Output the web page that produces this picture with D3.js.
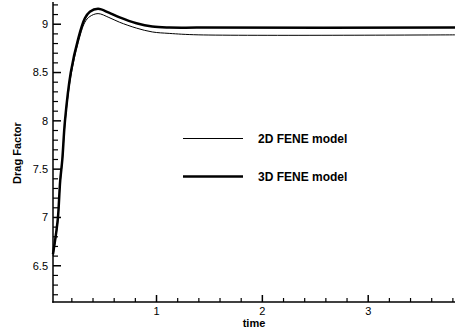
<!DOCTYPE html>
<html>
<head>
<meta charset="utf-8">
<script src="https://cdn.jsdelivr.net/npm/d3@7"></script>
<style>
  body { margin: 0; background: #fff; }
  svg text { font-family: "Liberation Sans", Arial, sans-serif; fill: #000; }
</style>
</head>
<body>
<div id="chart"></div>
<script>
// values
const time = [0.022, 0.053, 0.069, 0.09, 0.11, 0.135, 0.19, 0.26, 0.323, 0.37, 0.448, 0.55, 0.652, 0.81, 0.96, 1.12, 1.4, 3.82];
const fene2d = [6.60, 6.83, 6.98, 7.36, 7.58, 7.97, 8.46, 8.81, 9.02, 9.08, 9.11, 9.07, 9.02, 8.96, 8.92, 8.905, 8.89, 8.89];
const fene3d = [6.62, 6.85, 7.00, 7.38, 7.60, 8.00, 8.50, 8.85, 9.06, 9.13, 9.16, 9.12, 9.07, 9.01, 8.976, 8.966, 8.965, 8.965];
const yTicks = [6.5, 7, 7.5, 8, 8.5, 9];
const xTicks = [1, 2, 3];
const seriesNames = ["2D FENE model", "3D FENE model"];

const width = 456, height = 335;
const margin = {left: 53, right: 1, top: 2, bottom: 33};

const svg = d3.select("#chart")
  .append("svg")
    .attr("width", width)
    .attr("height", height);

const x = d3.scaleLinear()
  .domain([0.022, 3.82])
  .range([margin.left, width - margin.right]);

const y = d3.scaleLinear()
  .domain([6.125, 9.23])
  .range([height - margin.bottom, margin.top]);

// minor ticks first, then major with labels
const yMinor = d3.range(6.2, 9.21, 0.1).filter(v => !yTicks.some(t => Math.abs(t - v) < 1e-6));
const xMinor = d3.range(0.2, 3.81, 0.2).filter(v => !xTicks.some(t => Math.abs(t - v) < 1e-6));

const gy = svg.append("g").attr("transform", `translate(${margin.left},0)`);
gy.selectAll("line.minor")
  .data(yMinor)
  .enter().append("line")
    .attr("x1", 0).attr("x2", 5)
    .attr("y1", d => y(d)).attr("y2", d => y(d))
    .attr("stroke", "#000").attr("stroke-width", 1.2);
gy.selectAll("line.major")
  .data(yTicks)
  .enter().append("line")
    .attr("x1", 0).attr("x2", 8)
    .attr("y1", d => y(d)).attr("y2", d => y(d))
    .attr("stroke", "#000").attr("stroke-width", 1.5);
gy.selectAll("text")
  .data(yTicks)
  .enter().append("text")
    .attr("x", -5)
    .attr("y", d => y(d))
    .attr("dy", "0.35em")
    .attr("text-anchor", "end")
    .attr("font-size", 11)
    .text(d => d);
gy.append("line")
  .attr("x1", 0).attr("x2", 0)
  .attr("y1", y.range()[1]).attr("y2", y.range()[0] + 0.75)
  .attr("stroke", "#000").attr("stroke-width", 1.5);

const gx = svg.append("g").attr("transform", `translate(0,${height - margin.bottom})`);
gx.selectAll("line.minor")
  .data(xMinor)
  .enter().append("line")
    .attr("x1", d => x(d)).attr("x2", d => x(d))
    .attr("y1", 0).attr("y2", -4)
    .attr("stroke", "#000").attr("stroke-width", 1.2);
gx.selectAll("line.major")
  .data(xTicks)
  .enter().append("line")
    .attr("x1", d => x(d)).attr("x2", d => x(d))
    .attr("y1", 0).attr("y2", -7)
    .attr("stroke", "#000").attr("stroke-width", 1.5);
gx.selectAll("text")
  .data(xTicks)
  .enter().append("text")
    .attr("x", d => x(d))
    .attr("y", 13)
    .attr("text-anchor", "middle")
    .attr("font-size", 11)
    .text(d => d);
gx.append("line")
  .attr("x1", x.range()[0] - 0.75).attr("x2", x.range()[1])
  .attr("y1", 0).attr("y2", 0)
  .attr("stroke", "#000").attr("stroke-width", 1.5);

// axis titles
svg.append("text")
  .attr("x", 254).attr("y", 327)
  .attr("text-anchor", "middle")
  .attr("font-size", 11).attr("font-weight", "bold")
  .text("time");
svg.append("text")
  .attr("transform", "translate(21,153) rotate(-90)")
  .attr("text-anchor", "middle")
  .attr("font-size", 11).attr("font-weight", "bold")
  .text("Drag Factor");

// curves
const line = d3.line()
  .curve(d3.curveCatmullRom.alpha(0.5))
  .x((d, i) => x(time[i]))
  .y(d => y(d));

const widths = [1, 2.5];
[fene2d, fene3d].forEach((s, i) => {
  svg.append("path")
    .attr("d", line(s))
    .attr("fill", "none")
    .attr("stroke", "#000")
    .attr("stroke-width", widths[i]);
});

// legend
const legendY = [138.5, 176.5];
seriesNames.forEach((name, i) => {
  svg.append("line")
    .attr("x1", 183).attr("x2", 243)
    .attr("y1", legendY[i]).attr("y2", legendY[i])
    .attr("stroke", "#000").attr("stroke-width", widths[i]);
  svg.append("text")
    .attr("x", 258).attr("y", legendY[i] + 4)
    .attr("font-size", 12).attr("font-weight", "bold")
    .text(name);
});
</script>
</body>
</html>
